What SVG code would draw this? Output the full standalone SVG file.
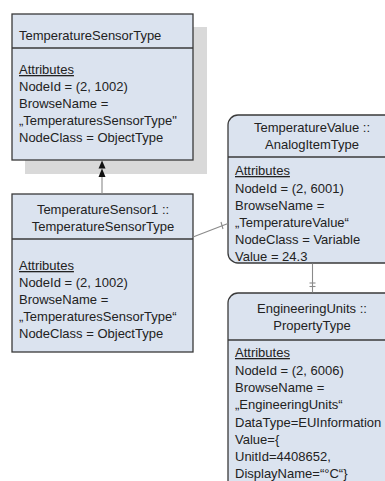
<svg xmlns="http://www.w3.org/2000/svg" width="385" height="481" viewBox="0 0 385 481">
  <style>
    .box { fill: #dbe3ef; stroke: #3a3a3a; stroke-width: 1.3; }
    .div { stroke: #3a3a3a; stroke-width: 1.3; }
    .shadow { fill: #d9d9d9; }
    text { font-family: "Liberation Sans", Arial, sans-serif; font-size: 13px; fill: #222; }
    .c { text-anchor: middle; }
    .u { text-decoration: underline; }
    .link { stroke: #8a8a8a; stroke-width: 1.1; fill: none; }
    .head { fill: #111; }
  </style>
  <rect width="385" height="481" fill="#ffffff"/>

  <g id="TemperatureSensorType">
    <rect class="shadow" x="25" y="27" width="182" height="147"/>
    <rect class="box" x="12" y="14" width="181" height="146"/>
    <line class="div" x1="12" y1="48" x2="193" y2="48"/>
    <text x="19" y="40">TemperatureSensorType</text>
    <text x="19" y="74" class="u">Attributes</text>
    <text x="19" y="91">NodeId = (2, 1002)</text>
    <text x="19" y="108">BrowseName =</text>
    <text x="19" y="125">„TemperaturesSensorType"</text>
    <text x="19" y="142">NodeClass = ObjectType</text>
  </g>

  <g id="TemperatureSensor1">
    <rect class="box" x="12" y="194" width="181" height="158"/>
    <line class="div" x1="12" y1="239" x2="193" y2="239"/>
    <text x="103" y="214" class="c">TemperatureSensor1 ::</text>
    <text x="103" y="231" class="c">TemperatureSensorType</text>
    <text x="19" y="270" class="u">Attributes</text>
    <text x="19" y="287">NodeId = (2, 1002)</text>
    <text x="19" y="304">BrowseName =</text>
    <text x="19" y="321">„TemperaturesSensorType“</text>
    <text x="19" y="338">NodeClass = ObjectType</text>
  </g>

  <g id="TemperatureValue">
    <rect class="box" x="228" y="115" width="168" height="148" rx="10" ry="10"/>
    <line class="div" x1="228" y1="157" x2="396" y2="157"/>
    <text x="312" y="132" class="c">TemperatureValue ::</text>
    <text x="312" y="149" class="c">AnalogItemType</text>
    <text x="235" y="175" class="u">Attributes</text>
    <text x="235" y="193">NodeId = (2, 6001)</text>
    <text x="235" y="210">BrowseName =</text>
    <text x="235" y="227">„TemperatureValue“</text>
    <text x="235" y="244">NodeClass = Variable</text>
    <text x="235" y="261">Value = 24.3</text>
  </g>

  <g id="EngineeringUnits">
    <rect class="box" x="228" y="293" width="168" height="210" rx="10" ry="10"/>
    <line class="div" x1="228" y1="340" x2="396" y2="340"/>
    <text x="312" y="313" class="c">EngineeringUnits ::</text>
    <text x="312" y="330" class="c">PropertyType</text>
    <text x="235" y="357" class="u">Attributes</text>
    <text x="235" y="375">NodeId = (2, 6006)</text>
    <text x="235" y="392">BrowseName =</text>
    <text x="235" y="409">„EngineeringUnits“</text>
    <text x="235" y="427">DataType=EUInformation</text>
    <text x="235" y="444">Value={</text>
    <text x="235" y="461">UnitId=4408652,</text>
    <text x="235" y="478">DisplayName=“°C“}</text>
  </g>

  <g id="connectors">
    <!-- generalisation: instance to its type -->
    <line class="link" x1="102" y1="194" x2="102" y2="177"/>
    <polygon class="head" points="102,160.5 98.5,168.5 105.5,168.5"/>
    <polygon class="head" points="102,168.5 98.5,177 105.5,177"/>
    <!-- component reference to TemperatureValue -->
    <line class="link" x1="193" y1="237" x2="228" y2="223.5"/>
    <line class="link" x1="221" y1="222" x2="223" y2="229"/>
    <!-- property reference to EngineeringUnits -->
    <line class="link" x1="312.5" y1="263.7" x2="312.5" y2="292.3"/>
    <line class="link" x1="309.5" y1="283" x2="315.5" y2="283"/>
    <line class="link" x1="309.5" y1="286.5" x2="315.5" y2="286.5"/>
  </g>
</svg>
